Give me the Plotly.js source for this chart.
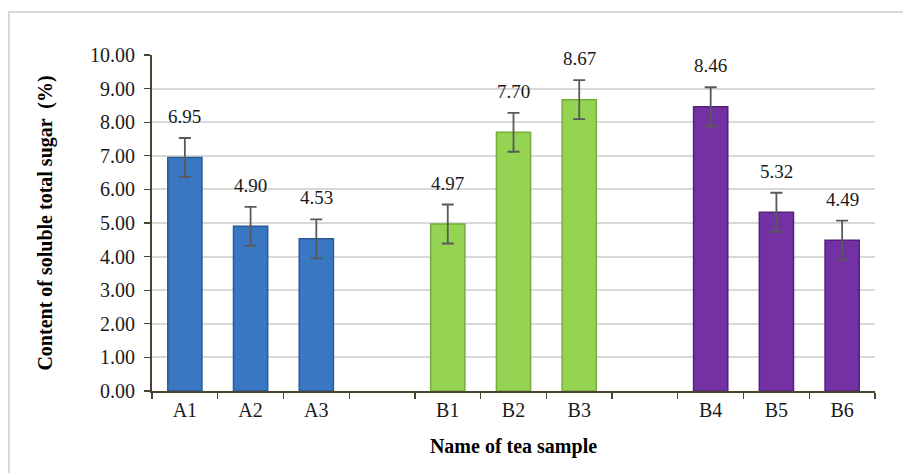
<!DOCTYPE html>
<html>
<head>
<meta charset="utf-8">
<script src="https://cdn.plot.ly/plotly-3.0.1.min.js"></script>
<style>
  html, body { margin: 0; padding: 0; background: #ffffff; }
  #frame { position: absolute; left: 8px; top: 11px; width: 900px; height: 470px;
           border-left: 2px solid #d9d9d9; border-top: 2px solid #d9d9d9; }
  #chart { position: absolute; left: 0; top: 0; width: 903px; height: 473px; }
</style>
</head>
<body>
<div id="frame"></div>
<div id="chart"></div>
<script>
// ---- data ----
const categories = ["A1", "A2", "A3", " ", "B1", "B2", "B3", "  ", "B4", "B5", "B6"];
const sugarContent = [6.95, 4.90, 4.53, null, 4.97, 7.70, 8.67, null, 8.46, 5.32, 4.49];
const errorValues = [0.58, 0.58, 0.58, null, 0.58, 0.58, 0.58, null, 0.58, 0.58, 0.58];
const groupA = ["A1", "A2", "A3"];
const groupB1 = ["B1", "B2", "B3"];
const groupB2 = ["B4", "B5", "B6"];
const yTickValues = [0, 1, 2, 3, 4, 5, 6, 7, 8, 9, 10];

// ---- styles ----
const groupStyle = [
  { members: groupA,  fill: "#3a77c2", edge: "#2a5a96" },
  { members: groupB1, fill: "#95d352", edge: "#74ad38" },
  { members: groupB2, fill: "#7431a4", edge: "#55207c" }
];
function styleFor(cat, key) {
  for (const g of groupStyle) if (g.members.includes(cat)) return g[key];
  return "rgba(0,0,0,0)";
}
const serif = "Liberation Serif, Times New Roman, serif";

const trace = {
  type: "bar",
  x: categories,
  y: sugarContent,
  marker: {
    color: categories.map(c => styleFor(c, "fill")),
    line: { color: categories.map(c => styleFor(c, "edge")), width: 1.5 }
  },
  error_y: {
    type: "data",
    array: errorValues,
    visible: true,
    color: "#595959",
    thickness: 1.8,
    width: 6
  },
  hoverinfo: "none",
  showlegend: false
};

const annotations = [];
categories.forEach((c, i) => {
  if (sugarContent[i] === null) return;
  annotations.push({
    x: c, y: sugarContent[i] + errorValues[i],
    xref: "x", yref: "y",
    text: sugarContent[i].toFixed(2),
    showarrow: false,
    yanchor: "bottom",
    yshift: 9,
    font: { family: serif, size: 19, color: "#1a1a1a" }
  });
});

const layout = {
  width: 903, height: 473,
  margin: { l: 152, r: 28, t: 55, b: 82 },
  paper_bgcolor: "rgba(0,0,0,0)",
  plot_bgcolor: "rgba(0,0,0,0)",
  bargap: 0.48,
  font: { family: serif, color: "#1a1a1a" },
  xaxis: {
    type: "category",
    categoryorder: "array",
    categoryarray: categories,
    tickson: "boundaries",
    ticks: "outside",
    ticklen: 6,
    tickwidth: 1.3,
    tickcolor: "#4a4430",
    showline: true,
    linecolor: "#4a4430",
    linewidth: 2,
    showgrid: false,
    tickfont: { family: serif, size: 20, color: "#1a1a1a" },
    title: { text: "<b>Name of tea sample</b>", font: { family: serif, size: 20, color: "#000" }, standoff: 19 },
    fixedrange: true
  },
  yaxis: {
    range: [0, 10],
    tickvals: yTickValues,
    tickformat: ".2f",
    ticks: "outside",
    ticklen: 6,
    tickwidth: 1.3,
    tickcolor: "#4a4430",
    ticklabelstandoff: 5,
    showline: true,
    linecolor: "#4a4430",
    linewidth: 2,
    showgrid: true,
    gridcolor: "#d9d9d9",
    gridwidth: 2,
    zeroline: false,
    tickfont: { family: serif, size: 20, color: "#1a1a1a" },
    title: { text: "<b>Content of soluble total sugar  (%)</b>", font: { family: serif, size: 20, color: "#000" }, standoff: 32 },
    fixedrange: true
  },
  annotations: annotations
};

Plotly.newPlot("chart", [trace], layout, { displayModeBar: false, staticPlot: true });
</script>
</body>
</html>
